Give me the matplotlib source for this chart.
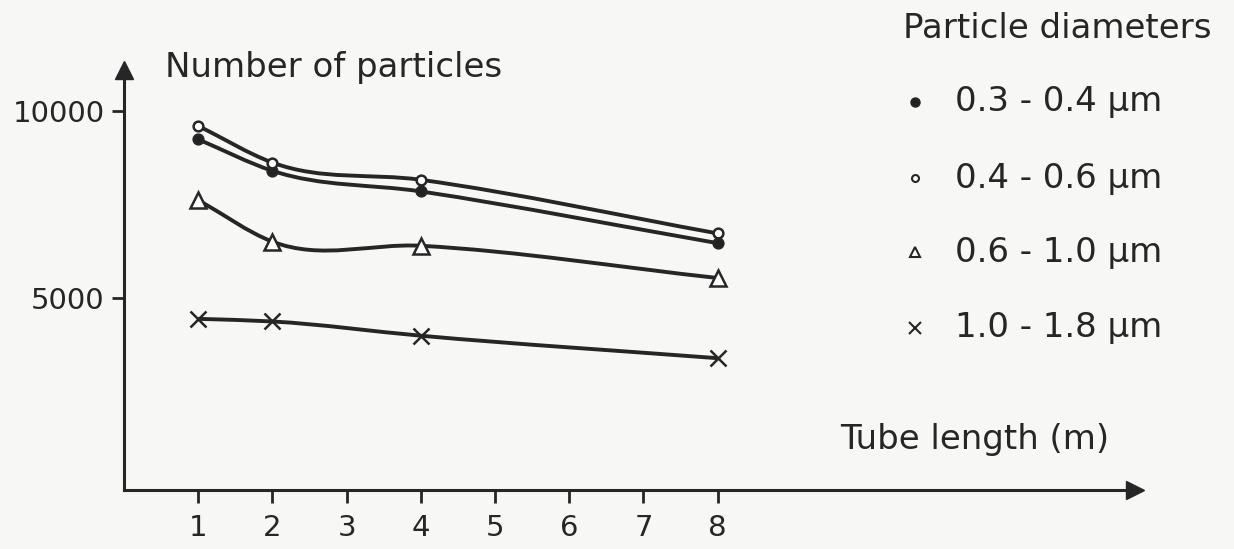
import numpy as np
import matplotlib.pyplot as plt
from matplotlib.path import Path
from matplotlib.patches import PathPatch

# values
tube_length = [1, 2, 4, 8]
n_03_04 = [9240, 8400, 7850, 6470]
n_04_06 = [9600, 8620, 8160, 6730]
n_06_10 = [7620, 6510, 6400, 5540]
n_10_18 = [4450, 4380, 4000, 3400]

series = [n_03_04, n_04_06, n_06_10, n_10_18]
labels = ["0.3 - 0.4 μm", "0.4 - 0.6 μm", "0.6 - 1.0 μm", "1.0 - 1.8 μm"]
markers = ["o", "o", "^", "x"]
fills = ["#222222", "white", "white", "#222222"]
msizes = [7, 7, 11, 11]
leg_sizes = [6, 5, 7, 8]

x_ticks = [1, 2, 3, 4, 5, 6, 7, 8]
y_ticks = [5000, 10000]
ink = "#262626"
bg = "#f7f7f5"

plt.rcParams['font.family'] = ['DejaVu Sans']


def smooth_path(xs, ys):
    # cubic hermite curve through the measured points, as bezier segments
    xs = np.asarray(xs, float)
    ys = np.asarray(ys, float)
    h = np.diff(xs)
    d = np.diff(ys) / h
    m = np.zeros_like(ys)
    m[0] = d[0]
    m[-1] = d[-1]
    for i in range(1, len(xs) - 1):
        m[i] = (d[i - 1] * h[i] + d[i] * h[i - 1]) / (h[i - 1] + h[i])
    verts = [(xs[0], ys[0])]
    codes = [Path.MOVETO]
    for i in range(len(xs) - 1):
        verts += [(xs[i] + h[i] / 3, ys[i] + m[i] * h[i] / 3),
                  (xs[i + 1] - h[i] / 3, ys[i + 1] - m[i + 1] * h[i] / 3),
                  (xs[i + 1], ys[i + 1])]
        codes += [Path.CURVE4] * 3
    return Path(verts, codes)


W, H = 1234, 549
fig = plt.figure(figsize=(W / 100, H / 100), dpi=100)
fig.patch.set_facecolor(bg)
ax = fig.add_axes([124 / W, 1 - 490 / H, (1135 - 124) / W, (490 - 70) / H])
ax.set_facecolor(bg)
ax.set_xlim(0, (1135 - 124) / 74.2)
ax.set_ylim(-117, 11090)

for s, mk, fc, ms in zip(series, markers, fills, msizes):
    ax.add_patch(PathPatch(smooth_path(tube_length, s), fill=False,
                           edgecolor=ink, lw=2.8, zorder=2))
    ax.plot(tube_length, s, linestyle="none", marker=mk, ms=ms,
            mfc=fc, mec=ink, mew=1.8, zorder=3)

for side in ["top", "right"]:
    ax.spines[side].set_visible(False)
for side in ["left", "bottom"]:
    ax.spines[side].set_linewidth(2.2)
    ax.spines[side].set_color(ink)

# arrow heads on the axes
ax.plot([0], [1], marker="^", ms=13, color=ink, transform=ax.transAxes,
        clip_on=False)
ax.plot([1], [0], marker=">", ms=13, color=ink, transform=ax.transAxes,
        clip_on=False)

ax.set_xticks(x_ticks)
ax.set_yticks(y_ticks)
ax.set_yticklabels([str(v) for v in y_ticks])
ax.tick_params(direction="out", length=9, width=2, colors=ink,
               labelsize=21, pad=5)
ax.tick_params(axis="x", pad=8)

lab_fs = 24.5
fig.text(165 / W, 1 - 67 / H, "Number of particles", fontsize=lab_fs,
         color=ink, va="center", ha="left")
fig.text(840 / W, 1 - 440 / H, "Tube length (m)", fontsize=lab_fs,
         color=ink, va="center", ha="left")
fig.text(903 / W, 1 - 28 / H, "Particle diameters", fontsize=lab_fs,
         color=ink, va="center", ha="left")

leg_y = [102, 178, 252, 328]
for yy, lab, mk, fc, ms in zip(leg_y, labels, markers, fills, leg_sizes):
    fig.add_artist(plt.Line2D([915 / W], [1 - yy / H], marker=mk, ms=ms,
                              mfc=fc, mec=ink, mew=1.5, linestyle="none"))
    fig.text(955 / W, 1 - yy / H, lab, fontsize=lab_fs, color=ink,
             va="center", ha="left")

fig.savefig("out.png", dpi=100, facecolor=bg)
